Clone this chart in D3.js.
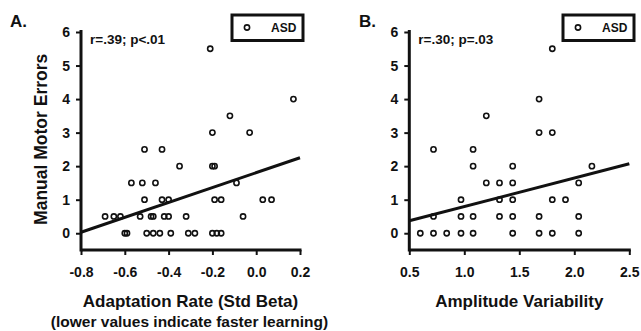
<!DOCTYPE html>
<html lang="en">
<head>
  <meta charset="utf-8">
  <title>Manual motor errors vs adaptation / amplitude</title>
  <script src="https://d3js.org/d3.v7.min.js"></script>
  <style>
    body { margin: 0; background: #fff; }
    svg { display: block; font-family: "Liberation Sans", Arial, sans-serif; font-weight: bold; }
  </style>
</head>
<body>
  <svg id="chart" width="641" height="331"></svg>

  <script>
    // Panel A: adaptation rate (std beta) vs manual motor errors
    const adaptRate = [-0.21, 0.17, -0.12, -0.20, -0.03, -0.51, -0.43, -0.35, -0.20, -0.19,
      -0.57, -0.52, -0.46, -0.09, -0.51, -0.43, -0.40, -0.19, -0.16, 0.03, 0.07,
      -0.69, -0.65, -0.62, -0.53, -0.48, -0.47, -0.42, -0.40, -0.32, -0.06,
      -0.60, -0.59, -0.50, -0.47, -0.44, -0.39, -0.31, -0.28, -0.20, -0.18, -0.16];
    const errorsA = [5.5, 4, 3.5, 3, 3, 2.5, 2.5, 2, 2, 2,
      1.5, 1.5, 1.5, 1.5, 1, 1, 1, 1, 1, 1, 1,
      0.5, 0.5, 0.5, 0.5, 0.5, 0.5, 0.5, 0.5, 0.5, 0.5,
      0, 0, 0, 0, 0, 0, 0, 0, 0, 0, 0];
    const fitA = { x: [-0.8, 0.2], y: [0.03, 2.25] };

    // Panel B: amplitude variability vs manual motor errors
    const ampVar = [1.80, 1.68, 1.20, 1.68, 1.80, 0.72, 1.08, 1.08, 1.44, 2.16,
      1.20, 1.32, 1.44, 2.04, 0.97, 1.32, 1.44, 1.80, 1.92,
      0.72, 0.97, 1.08, 1.32, 1.44, 1.68, 2.04,
      0.60, 0.72, 0.84, 0.97, 1.08, 1.44, 1.68, 1.80, 2.04];
    const errorsB = [5.5, 4, 3.5, 3, 3, 2.5, 2.5, 2, 2, 2,
      1.5, 1.5, 1.5, 1.5, 1, 1, 1, 1, 1,
      0.5, 0.5, 0.5, 0.5, 0.5, 0.5, 0.5,
      0, 0, 0, 0, 0, 0, 0, 0, 0];
    const fitB = { x: [0.5, 2.5], y: [0.37, 2.07] };

    const yTicks = [0, 1, 2, 3, 4, 5, 6];
    const xTicksA = [-0.8, -0.6, -0.4, -0.2, 0.0, 0.2];
    const xTicksB = [0.5, 1.0, 1.5, 2.0, 2.5];

    const svg = d3.select("#chart");
    const ink = "#111";

    function panel(opt) {
      const x = d3.scaleLinear().domain(opt.xDomain).range(opt.xRange);
      const y = d3.scaleLinear().domain([-0.5, 6]).range([250, 32]);
      const g = svg.append("g");

      // y axis
      const ya = g.append("g")
          .attr("transform", `translate(${opt.xRange[0]},0)`)
          .call(d3.axisLeft(y).tickValues(yTicks).tickFormat(d3.format("d"))
            .tickSize(5).tickSizeOuter(0).tickPadding(6));
      // x axis
      const xa = g.append("g")
          .attr("transform", `translate(0,${y(-0.5)})`)
          .call(d3.axisBottom(x).tickValues(opt.xTicks).tickFormat(d3.format(".1f"))
            .tickSize(5).tickSizeOuter(0).tickPadding(12));

      [ya, xa].forEach(a => {
        a.select(".domain").attr("stroke", ink).attr("stroke-width", 3);
        a.selectAll(".tick line").attr("stroke", ink).attr("stroke-width", 2);
        a.selectAll(".tick text").attr("fill", ink)
          .style("font-size", "14px").style("font-weight", "bold");
      });
      ya.select(".domain").attr("d", `M0,${y(-0.5) + 1.5}V${y(6) - 2}`);
      xa.select(".domain").attr("d", `M${opt.xRange[0]},0H${opt.xRange[1] + 1.5}`);
      xa.selectAll(".tick text").text(d => d3.format(".1f")(d).replace("−", "-"));

      // regression line
      g.append("line")
          .attr("x1", x(opt.fit.x[0])).attr("y1", y(opt.fit.y[0]))
          .attr("x2", x(opt.fit.x[1])).attr("y2", y(opt.fit.y[1]))
          .attr("stroke", ink).attr("stroke-width", 3);

      // points
      g.append("g")
        .selectAll("circle")
        .data(d3.zip(opt.xs, opt.ys))
        .join("circle")
          .attr("cx", d => x(d[0]))
          .attr("cy", d => y(d[1]))
          .attr("r", 2.6)
          .attr("fill", "none")
          .attr("stroke", ink)
          .attr("stroke-width", 1.6);

      // panel letter
      g.append("text")
          .attr("x", opt.letterX).attr("y", 27)
          .style("font-size", "17px").attr("fill", ink)
          .text(opt.letter);

      // stats
      g.append("text")
          .attr("x", opt.xRange[0] + 9).attr("y", 44)
          .style("font-size", "13.5px").attr("fill", ink)
          .text(opt.stat);

      // legend
      const lg = g.append("g").attr("transform", `translate(${opt.legendX},13.5)`);
      lg.append("rect")
          .attr("x", 1.5).attr("y", 1.5).attr("width", 71).attr("height", 25.5)
          .attr("fill", "#fff").attr("stroke", ink).attr("stroke-width", 3);
      lg.append("circle")
          .attr("cx", 16.5).attr("cy", 14)
          .attr("r", 2.6).attr("fill", "none").attr("stroke", ink).attr("stroke-width", 1.6);
      lg.append("text")
          .attr("x", 40.5).attr("y", 18.3)
          .style("font-size", "12px").attr("fill", ink)
          .text("ASD");

      // x label
      const mid = (opt.xRange[0] + opt.xRange[1]) / 2;
      g.append("text")
          .attr("x", mid).attr("y", 306.5)
          .attr("text-anchor", "middle")
          .style("font-size", "17px").attr("fill", ink)
          .text(opt.xLabel);
      if (opt.xSub) {
        g.append("text")
            .attr("x", mid - 1).attr("y", 327)
            .attr("text-anchor", "middle")
            .style("font-size", "15.5px").attr("fill", ink)
            .text(opt.xSub);
      }
      return { x, y };
    }

    const pa = panel({
      xDomain: [-0.8, 0.2], xRange: [81, 300], xTicks: xTicksA,
      xs: adaptRate, ys: errorsA, fit: fitA,
      letter: "A.", letterX: 10, stat: "r=.39; p<.01", legendX: 230.5,
      xLabel: "Adaptation Rate (Std Beta)",
      xSub: "(lower values indicate faster learning)"
    });

    panel({
      xDomain: [0.5, 2.5], xRange: [409.3, 629.3], xTicks: xTicksB,
      xs: ampVar, ys: errorsB, fit: fitB,
      letter: "B.", letterX: 359, stat: "r=.30; p=.03", legendX: 561.5,
      xLabel: "Amplitude Variability"
    });

    // y label (left panel only)
    svg.append("text")
        .attr("transform", `translate(46.5,${pa.y(2.8)}) rotate(-90)`)
        .attr("text-anchor", "middle")
        .style("font-size", "17.5px").attr("fill", ink)
        .text("Manual Motor Errors");
  </script>
</body>
</html>
